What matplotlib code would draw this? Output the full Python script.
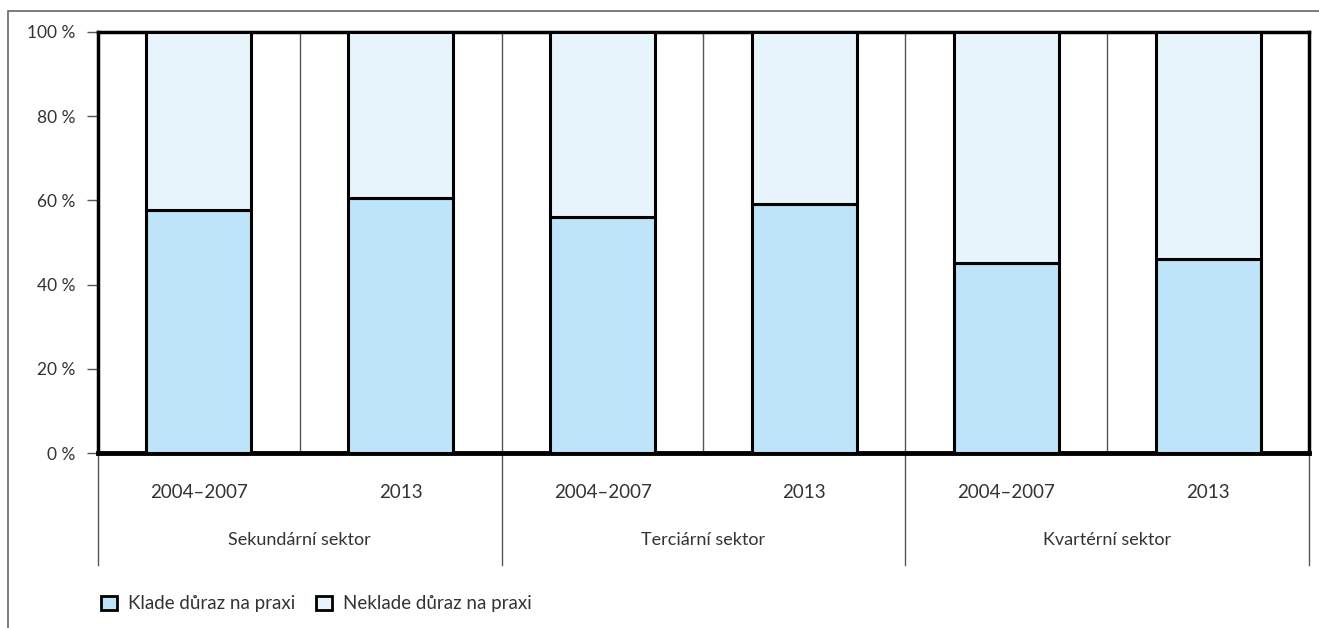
import numpy as np
import matplotlib.pyplot as plt
from matplotlib.patches import Patch, Rectangle

# data
sectors = ['Sekundární sektor', 'Terciární sektor', 'Kvartérní sektor']
periods = ['2004 - 2007', '2013']
klade = [57.7, 60.6, 56.1, 59.1, 45.1, 46.1]
neklade = [100 - v for v in klade]
yticks = [0, 20, 40, 60, 80, 100]

plt.rcParams['font.family'] = ['Lato', 'DejaVu Sans']
text_col = '#333333'

fig = plt.figure(figsize=(13.19, 6.28), dpi=100)
ax = fig.add_axes([98/1319, 1 - 453/628, (1309 - 98)/1319, (453 - 32)/628])

# outer frame (top and left edges visible)
fig.patches.append(Rectangle((8/1319, -0.1), 1.2, 1 - 11/628 + 0.1, transform=fig.transFigure,
                             fill=False, edgecolor='#666666', lw=1.2))

x = np.arange(len(klade))
ax.bar(x, klade, width=0.52, color='#bde4f8', edgecolor='black', lw=2.2, zorder=3)
ax.bar(x, neklade, bottom=klade, width=0.52, color='#e8f4fc', edgecolor='black', lw=2.2, zorder=3)

for b in np.arange(0.5, len(klade) - 0.5, 1):
    ax.axvline(b, color='#555555', lw=1, zorder=1)

ax.set_xlim(-0.5, len(klade) - 0.5)
ax.set_ylim(0, 100)
ax.set_yticks(yticks)
ax.set_yticklabels([f'{t} %' for t in yticks], fontsize=12.5, color=text_col)
ax.tick_params(axis='y', length=8, width=1, color='#555555', pad=8)
ax.set_xticks([])
for s in ax.spines.values():
    s.set_linewidth(2.5)
    s.set_color('black')
ax.spines['bottom'].set_linewidth(3.5)

# group labels under the axis
for b in [-0.5, 1.5, 3.5, 5.5]:
    ax.plot([b, b], [0, -26.6], color='#555555', lw=1, clip_on=False)
for i in range(len(klade)):
    ax.text(i, -9.3, periods[i % 2].replace(' - ', '–'), ha='center', va='center', fontsize=13.5, color=text_col)
for g, name in enumerate(sectors):
    ax.text(2 * g + 0.5, -20.7, name, ha='center', va='center', fontsize=13, color=text_col)

handles = [Patch(facecolor='#bde4f8', edgecolor='black', lw=2, label='Klade důraz na praxi'),
           Patch(facecolor='#e8f4fc', edgecolor='black', lw=2, label='Neklade důraz na praxi')]
leg = fig.legend(handles=handles, loc='center left', bbox_to_anchor=(101/1319, 1 - 604/628), ncol=2,
                 frameon=False, fontsize=13.5, handlelength=0.85, handleheight=0.85,
                 handletextpad=0.6, columnspacing=1.1, borderpad=0, borderaxespad=0)
for t in leg.get_texts():
    t.set_color(text_col)

fig.savefig('out.png', dpi=100)
